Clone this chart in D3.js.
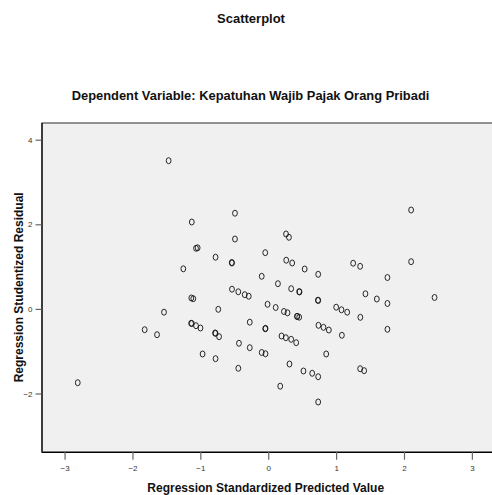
<!DOCTYPE html>
<html><head><meta charset="utf-8">
<script src="https://cdn.jsdelivr.net/npm/d3@7"></script>
<style>
body{margin:0;background:#fff;}
svg text{font-family:"Liberation Sans",Arial,sans-serif;}
</style></head>
<body>
<svg id="chart" width="492" height="495"></svg>
<script>
const title = "Scatterplot";
const subtitle = "Dependent Variable: Kepatuhan Wajib Pajak Orang Pribadi";
const xLabel = "Regression Standardized Predicted Value";
const yLabel = "Regression Studentized Residual";
const xTicks = [-3, -2, -1, 0, 1, 2, 3];
const yTicks = [-2, 0, 2, 4];

// Regression standardized predicted values
const predicted = [
 -2.806,-1.820,-1.638,-1.535,-1.467,-1.251,-1.126,-1.133,-1.104,-1.126,-1.136,-1.064,-0.998,
 -1.064,-1.040,-0.967,-0.776,-0.776,-0.783,-0.724,-0.776,-0.736,-0.534,-0.537,
 -0.534,-0.441,-0.346,-0.287,-0.490,-0.490,-0.431,-0.441,-0.272,-0.272,-0.096,-0.096,-0.040,
 -0.044,-0.044,-0.040,-0.010,0.110,0.231,0.284,0.427,0.456,0.424,0.143,0.177,
 0.196,0.260,0.338,0.412,0.262,0.305,0.265,0.353,0.313,0.338,0.461,0.456,0.519,0.537,
 0.648,0.736,0.736,0.736,0.733,0.736,0.740,0.814,0.893,0.854,1.001,1.079,1.163,1.085,
 1.251,1.354,1.357,1.354,1.413,1.432,1.600,1.756,1.756,1.756,2.105,2.105,2.450
];
// Regression studentized residuals
const residual = [
 -1.745,-0.492,-0.610,-0.078,3.504,0.948,2.054,0.258,0.241,-0.345,-0.340,-0.397,-0.452,
 1.433,1.444,-1.066,1.222,-0.577,-0.570,-0.657,-1.177,-0.010,1.085,1.097,
 0.466,0.404,0.336,0.300,2.262,1.652,-0.813,-1.404,-0.314,-0.917,0.771,-1.031,-1.061,
 1.329,-0.470,-0.459,0.109,0.033,-0.061,-0.092,-0.180,-0.196,-0.175,0.596,-1.827,
 -0.641,-0.681,-0.719,-0.799,1.771,1.693,1.151,1.085,-1.303,0.478,0.400,0.409,-1.468,0.943,
 -1.522,-1.603,0.818,0.199,0.206,-2.201,-0.388,-0.435,-0.499,-1.066,0.040,-0.021,-0.078,-0.624,
 1.080,1.007,-0.199,-1.414,-1.461,0.357,0.234,0.742,0.128,-0.482,2.338,1.116,0.270
];

const points = predicted.map((v, i) => ({x: v, y: residual[i]}));

const svg = d3.select("#chart");
const pLeft = 41.5, pRight = 490, pTop = 123, pBottom = 451.7;

const x = d3.scaleLinear().domain([-3.34, 3.267]).range([pLeft, pRight]);
const y = d3.scaleLinear().domain([-3.376, 4.395]).range([pBottom, pTop]);

// titles
svg.append("text").attr("x", 251).attr("y", 23).attr("text-anchor", "middle")
  .attr("font-size", 13).attr("font-weight", "bold").attr("fill", "#111").text(title);
svg.append("text").attr("x", 250.5).attr("y", 100).attr("text-anchor", "middle")
  .attr("font-size", 12.9).attr("font-weight", "bold").attr("fill", "#111").text(subtitle);

// plot background
svg.append("rect").attr("x", pLeft).attr("y", pTop).attr("width", 492 - pLeft)
  .attr("height", pBottom - pTop).attr("fill", "#f0f0f0");
svg.append("line").attr("x1", pLeft).attr("x2", 492).attr("y1", pTop).attr("y2", pTop)
  .attr("stroke", "#6e6e6e").attr("stroke-width", 1.5);

// axes
const xAxis = svg.append("g").attr("transform", `translate(0,${pBottom})`)
  .call(d3.axisBottom(x).tickValues(xTicks).tickSize(8).tickPadding(6).tickFormat(d3.format("d")));
const yAxis = svg.append("g").attr("transform", `translate(${pLeft},0)`)
  .call(d3.axisLeft(y).tickValues(yTicks).tickSize(6).tickPadding(3).tickFormat(d3.format("d")));
[xAxis, yAxis].forEach(g => {
  g.select(".domain").attr("stroke", "#000").attr("stroke-width", 1.5);
  g.selectAll(".tick line").attr("stroke", "#666").attr("stroke-width", 1.2);
  g.selectAll(".tick text").attr("font-size", 8).attr("fill", "#333")
    .attr("font-family", "'Liberation Sans',Arial,sans-serif");
});
xAxis.select(".domain").attr("d", `M${pLeft},0.5H492`);
yAxis.select(".domain").attr("d", `M0.5,${pTop}V${pBottom}`);

// axis labels
svg.append("text").attr("x", 265.7).attr("y", 491.5).attr("text-anchor", "middle")
  .attr("font-size", 12).attr("font-weight", "bold").attr("fill", "#111").text(xLabel);
svg.append("text").attr("transform", `translate(22.5,${(pTop + pBottom) / 2}) rotate(-90)`)
  .attr("text-anchor", "middle").attr("font-size", 12).attr("font-weight", "bold")
  .attr("fill", "#111").text(yLabel);

// points
svg.append("g").selectAll("ellipse").data(points).join("ellipse")
  .attr("cx", d => x(d.x)).attr("cy", d => y(d.y))
  .attr("rx", 2.4).attr("ry", 3).attr("fill", "none")
  .attr("stroke", "#111").attr("stroke-width", 0.9);
</script>
</body></html>
